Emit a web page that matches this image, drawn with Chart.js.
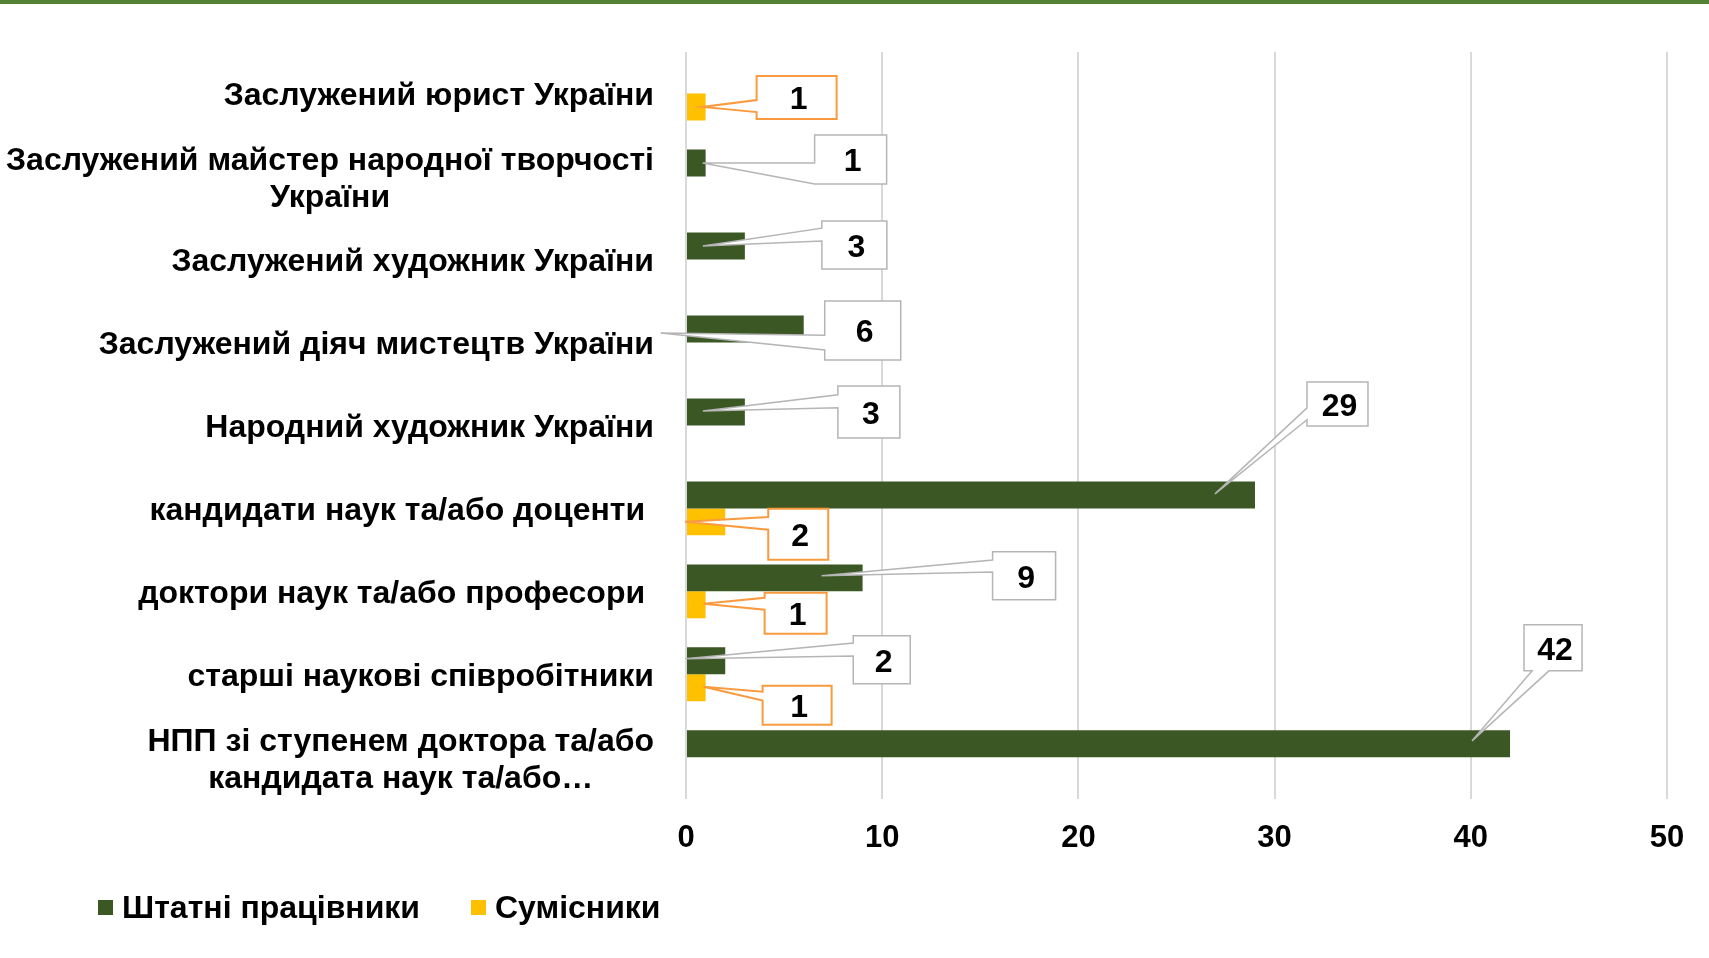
<!DOCTYPE html>
<html>
<head>
<meta charset="utf-8">
<script src="https://cdn.jsdelivr.net/npm/chart.js@4.4.1/dist/chart.umd.min.js"></script>
<style>
  html, body { margin: 0; padding: 0; background: #fff; }
  #wrap { width: 1709px; height: 958px; position: relative; }
</style>
</head>
<body>
<div id="wrap"><canvas id="chart"></canvas></div>
<script>
// Chart data
const categories = [
  'Заслужений юрист України',
  ['Заслужений майстер народної творчості', 'України'],
  'Заслужений художник України',
  'Заслужений діяч мистецтв України',
  'Народний художник України',
  'кандидати наук та/або доценти ',
  'доктори наук та/або професори ',
  'старші наукові співробітники',
  ['НПП зі ступенем доктора та/або', 'кандидата наук та/або…']
];
const staffValues = [null, 1, 3, 6, 3, 29, 9, 2, 42];
const partTimeValues = [1, null, null, null, null, 2, 1, 1, null];
const seriesNames = ['Штатні працівники', 'Сумісники'];
const xTicks = [0, 10, 20, 30, 40, 50];

const GREEN = '#3B5724';
const YELLOW = '#FFC000';
const FONT = '"Liberation Sans", Arial, sans-serif';

// Callout placement, relative to the end/centre of the bar it points at
const callouts = [
  { ds: 1, i: 0, dx: 51,  dy: -31,  w: 80, h: 43, tip: [-3, 0],   side: 'left',   f: [0.56, 0.84] },
  { ds: 0, i: 1, dx: 109, dy: -28,  w: 72, h: 49, tip: [-3, 0],   side: 'left',   f: [0.57, 1.0] },
  { ds: 0, i: 2, dx: 77,  dy: -25,  w: 65, h: 48, tip: [-42, 0],  side: 'left',   f: [0.15, 0.42] },
  { ds: 0, i: 3, dx: 21,  dy: -28,  w: 76, h: 59, tip: [-143, 4], side: 'left',   f: [0.58, 0.83] },
  { ds: 0, i: 4, dx: 93,  dy: -26,  w: 62, h: 52, tip: [-42, -1], side: 'left',   f: [0.17, 0.42] },
  { ds: 0, i: 5, dx: 52,  dy: -113, w: 61, h: 44, tip: [-40, -1], side: 'left',   f: [0.59, 0.86] },
  { ds: 1, i: 5, dx: 43,  dy: -13,  w: 60, h: 51, tip: [-40, 0],  side: 'left',   f: [0.16, 0.41] },
  { ds: 0, i: 6, dx: 130, dy: -26,  w: 63, h: 48, tip: [-41, -2], side: 'left',   f: [0.17, 0.42] },
  { ds: 1, i: 6, dx: 59,  dy: -12,  w: 62, h: 41, tip: [-2, -1],  side: 'left',   f: [0.12, 0.41] },
  { ds: 0, i: 7, dx: 128, dy: -25,  w: 57, h: 48, tip: [-40, -2], side: 'left',   f: [0.15, 0.42] },
  { ds: 1, i: 7, dx: 57,  dy: -2,   w: 69, h: 39, tip: [-2, -1],  side: 'left',   f: [0.15, 0.38] },
  { ds: 0, i: 8, dx: 14,  dy: -119, w: 58, h: 46, tip: [-38, -3], side: 'bottom', f: [0.14, 0.43] }
];

// Draws the boxed value labels with their wedge pointers
const calloutPlugin = {
  id: 'callouts',
  afterDatasetsDraw(chart) {
    const ctx = chart.ctx;
    callouts.forEach(function(c) {
      const value = chart.data.datasets[c.ds].data[c.i];
      if (value === null) return;
      const bar = chart.getDatasetMeta(c.ds).data[c.i];
      const x = bar.x + c.dx;
      const y = bar.y + c.dy;
      const tx = bar.x + c.tip[0];
      const ty = bar.y + c.tip[1];

      ctx.save();
      ctx.beginPath();
      if (c.side === 'left') {
        ctx.moveTo(x, y);
        ctx.lineTo(x + c.w, y);
        ctx.lineTo(x + c.w, y + c.h);
        ctx.lineTo(x, y + c.h);
        ctx.lineTo(x, y + c.h * c.f[1]);
        ctx.lineTo(tx, ty);
        ctx.lineTo(x, y + c.h * c.f[0]);
        ctx.closePath();
      } else {
        ctx.moveTo(x, y);
        ctx.lineTo(x + c.w, y);
        ctx.lineTo(x + c.w, y + c.h);
        ctx.lineTo(x + c.w * c.f[1], y + c.h);
        ctx.lineTo(tx, ty);
        ctx.lineTo(x + c.w * c.f[0], y + c.h);
        ctx.lineTo(x, y + c.h);
        ctx.closePath();
      }
      ctx.fillStyle = '#fff';
      ctx.fill();
      ctx.lineJoin = 'miter';
      if (c.ds === 1) {
        ctx.strokeStyle = '#FA9A3E';
        ctx.lineWidth = 2;
      } else {
        ctx.strokeStyle = '#B5B5B5';
        ctx.lineWidth = 1.5;
      }
      ctx.stroke();

      ctx.fillStyle = '#000';
      ctx.font = 'bold 32px ' + FONT;
      ctx.textAlign = 'center';
      ctx.textBaseline = 'middle';
      ctx.fillText(String(value), x + c.w / 2 + 2, y + c.h / 2 + 3);
      ctx.restore();
    });
  }
};

// Category names (multi-line ones centred on their own block) and the legend
const textPlugin = {
  id: 'texts',
  beforeDraw(chart) {
    const ctx = chart.ctx;
    ctx.save();
    ctx.fillStyle = '#548235';
    ctx.fillRect(0, 0, chart.width, 4);
    ctx.restore();
  },
  afterDraw(chart) {
    const ctx = chart.ctx;
    const yScale = chart.scales.y;
    const right = chart.chartArea.left - 32;
    const lineH = 37;

    ctx.save();
    ctx.fillStyle = '#000';
    ctx.font = 'bold 32px ' + FONT;
    ctx.textBaseline = 'middle';
    categories.forEach(function(label, i) {
      const cy = yScale.getPixelForTick(i) + 3;
      const lines = Array.isArray(label) ? label : [label];
      const widest = Math.max.apply(null, lines.map(l => ctx.measureText(l).width));
      const top = cy - (lines.length - 1) * lineH / 2;
      if (lines.length === 1) {
        ctx.textAlign = 'right';
        ctx.fillText(lines[0], right, cy);
      } else {
        ctx.textAlign = 'center';
        lines.forEach(function(l, k) {
          ctx.fillText(l, right - widest / 2, top + k * lineH);
        });
      }
    });

    // Legend
    const ly = 909;
    let lx = 98;
    ctx.font = 'bold 32px ' + FONT;
    ctx.textAlign = 'left';
    chart.data.datasets.forEach(function(ds) {
      ctx.fillStyle = ds.backgroundColor;
      ctx.fillRect(lx, ly - 9, 15, 15);
      ctx.fillStyle = '#000';
      ctx.fillText(ds.label, lx + 24, ly);
      lx += 24 + ctx.measureText(ds.label).width + 51;
    });
    ctx.restore();
  }
};

const chart = new Chart(document.getElementById('chart'), {
  type: 'bar',
  data: {
    labels: categories,
    datasets: [
      { label: seriesNames[0], data: staffValues, backgroundColor: GREEN },
      { label: seriesNames[1], data: partTimeValues, backgroundColor: YELLOW }
    ]
  },
  options: {
    indexAxis: 'y',
    responsive: true,
    maintainAspectRatio: false,
    animation: false,
    categoryPercentage: 0.65,
    barPercentage: 1.0,
    layout: { padding: { top: 52, right: 42, bottom: 80, left: 0 } },
    scales: {
      x: {
        min: xTicks[0],
        max: xTicks[xTicks.length - 1],
        afterBuildTicks: function(scale) {
          scale.ticks = xTicks.map(v => ({ value: v }));
        },
        grid: { color: '#D9D9D9', lineWidth: 2, drawTicks: false },
        border: { display: false },
        ticks: {
          padding: 21,
          color: '#000',
          font: { family: FONT, size: 31, weight: 'bold' }
        }
      },
      y: {
        grid: { display: false },
        border: { display: false },
        ticks: { display: false },
        afterFit: function(scale) {
          scale.width = 686;
        }
      }
    },
    plugins: {
      legend: { display: false },
      tooltip: { enabled: false }
    }
  },
  plugins: [calloutPlugin, textPlugin]
});
</script>
</body>
</html>
